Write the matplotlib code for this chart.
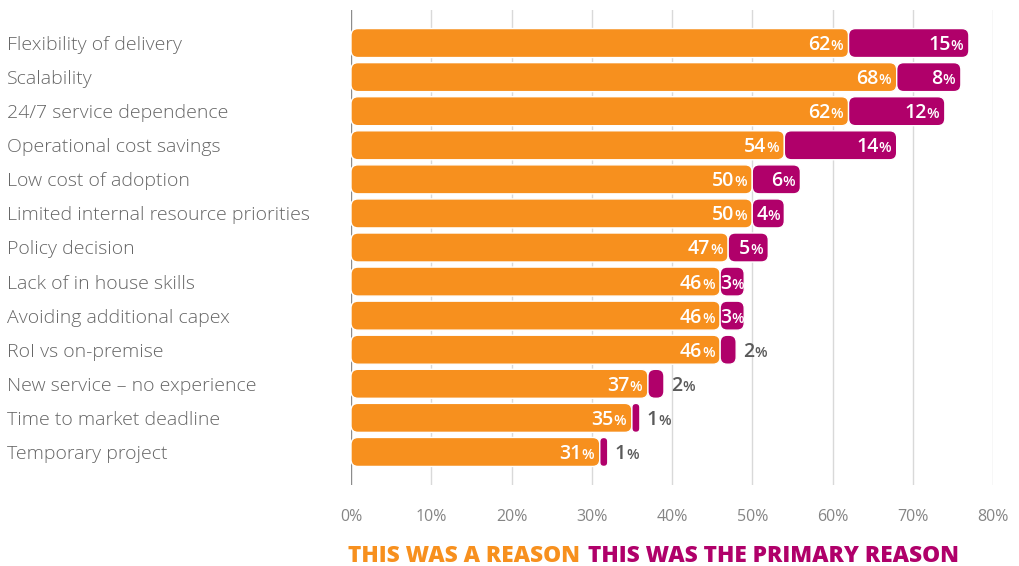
import numpy as np
import matplotlib
matplotlib.use("Agg")
import matplotlib.pyplot as plt
from matplotlib.patches import FancyBboxPatch

plt.rcParams['font.family'] = ['Open Sans', 'DejaVu Sans']

categories = [
    "Flexibility of delivery",
    "Scalability",
    "24/7 service dependence",
    "Operational cost savings",
    "Low cost of adoption",
    "Limited internal resource priorities",
    "Policy decision",
    "Lack of in house skills",
    "Avoiding additional capex",
    "RoI vs on-premise",
    "New service \u2013 no experience",
    "Time to market deadline",
    "Temporary project",
]
reason = [62, 68, 62, 54, 50, 50, 47, 46, 46, 46, 37, 35, 31]
primary = [15, 8, 12, 14, 6, 4, 5, 3, 3, 2, 2, 1, 1]
ticks = [0, 10, 20, 30, 40, 50, 60, 70, 80]

ORANGE = "#F7901E"
MAGENTA = "#B0006A"
GREY = "#5a5a5a"

fig = plt.figure(figsize=(10.19, 5.66), dpi=100)
ax = fig.add_axes([351 / 1019, 1 - 485 / 566, (993 - 351) / 1019, (485 - 10) / 566])

n = len(categories)
ax.set_xlim(0, 80)
ax.set_ylim(n - 0.03, -0.97)

# pixel scale so the rounded corners come out circular
px_x = (993 - 351) / 80.0
px_y = (485 - 10) / (n + 0.94)
aspect = px_x / px_y
bar_h = 29 / px_y
radius_px = 7


def rbar(x0, w, y, color):
    r = min(radius_px / px_x, w / 2)
    p = FancyBboxPatch((x0, y - bar_h / 2), w, bar_h,
                       boxstyle="round,pad=0,rounding_size=%f" % r,
                       mutation_aspect=aspect, facecolor=color,
                       edgecolor="white", linewidth=1.0, zorder=3)
    ax.add_patch(p)


for t in ticks:
    ax.axvline(t, color="#d9d9d9" if t else "#8c8c8c", lw=1, zorder=1)

renderer = fig.canvas.get_renderer()
BIG, SMALL, BASE = 14, 10.5, -5


def pct_label(x, y, val, color, where, pad=4):
    # number big, percent sign small, sharing one baseline
    kw = dict(textcoords="offset points", va="baseline", fontweight="semibold",
              color=color, zorder=5)
    num = ax.annotate(str(val), (x, y), xytext=(0, BASE), ha="left", fontsize=BIG, **kw)
    pc = ax.annotate("%", (x, y), xytext=(0, BASE), ha="left", fontsize=SMALL, **kw)
    wn = num.get_window_extent(renderer).width * 72 / fig.dpi
    wp = pc.get_window_extent(renderer).width * 72 / fig.dpi
    if where == "right":
        x0 = -pad - wn - wp
    elif where == "center":
        x0 = -(wn + wp) / 2
    else:
        x0 = pad + 1
    num.xyann = (x0, BASE)
    pc.xyann = (x0 + wn, BASE)


for i, (a, b) in enumerate(zip(reason, primary)):
    rbar(0, a, i, ORANGE)
    rbar(a, b, i, MAGENTA)
    pct_label(a, i, a, "white", "right")
    if b >= 5:
        pct_label(a + b, i, b, "white", "right")
    elif b >= 3:
        pct_label(a + b / 2, i, b, "white", "center")
    else:
        pct_label(a + b, i, b, GREY, "left")

ax.set_xticks(ticks)
ax.set_xticklabels(["%d%%" % t for t in ticks], fontsize=11.5, color="#858585")
ax.tick_params(axis="x", length=0, pad=17)
ax.set_yticks([])
for s in ax.spines.values():
    s.set_visible(False)

for i, c in enumerate(categories):
    ax.annotate(c, (0, i), xycoords=("figure fraction", "data"), xytext=(7, -2),
                textcoords="offset pixels", ha="left", va="center",
                fontsize=14, color="#666666", fontweight="light")

t1 = fig.text(348 / 1019, 1 - 556 / 566, "THIS WAS A REASON", color=ORANGE,
              fontsize=16.3, fontweight="heavy", ha="left", va="center")
w1 = t1.get_window_extent(renderer).width
fig.text((348 + w1 + 8) / 1019, 1 - 556 / 566, "THIS WAS THE PRIMARY REASON",
         color=MAGENTA, fontsize=16.3, fontweight="heavy", ha="left", va="center")

fig.savefig("out.png", dpi=100)
